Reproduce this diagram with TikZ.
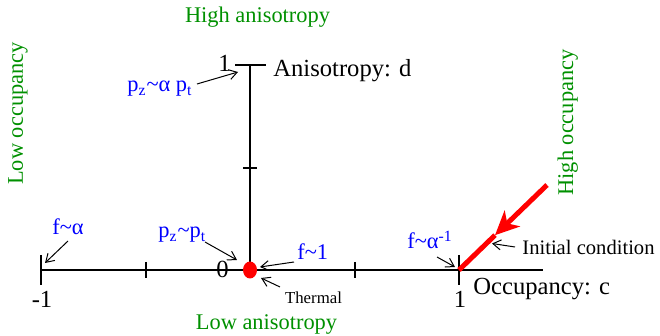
\documentclass[tikz,border=0pt]{standalone}
\usepackage{fontspec}
\setmainfont{Liberation Serif}
\usetikzlibrary{
  arrows.meta,
  shapes.geometric,
}
\definecolor{regimegreen}{RGB}{0,144,0}
\definecolor{scaleblue}{RGB}{0,0,255}
\definecolor{icred}{RGB}{255,0,0}
\tikzset{
  axisline/.style={line width=0.75pt, black},
  regimelab/.style={
    text=regimegreen, font=\fontsize{11.2}{13}\selectfont,
    inner sep=0pt, anchor=base
  },
  scalelab/.style={
    text=scaleblue, font=\fontsize{11.2}{13}\selectfont,
    inner sep=0pt, anchor=base west
  },
  axislab/.style={font=\fontsize{12.3}{14}\selectfont, inner sep=0pt},
  notelab/.style={font=\fontsize{10.3}{12}\selectfont, inner sep=0pt, anchor=base west},
  smallarrow/.style={-{Straight Barb[length=4pt,width=5pt]}, line width=0.5pt},
  initline/.style={line width=2.5pt, icred},
  thermaldot/.style={
    ellipse, fill=icred, draw=none,
    minimum width=7pt, minimum height=8.5pt, inner sep=0pt
  },
}

\begin{document}
\begin{tikzpicture}[x=0.5pt, y=-0.5pt]
  \useasboundingbox (0,0) rectangle (660,336);

  % ── Axes ──
  \coordinate (cmin) at (41,270);
  \coordinate (orig) at (250,270);
  \coordinate (cmax) at (459,270);
  \coordinate (cend) at (543,270);
  \coordinate (dtop) at (250,65);
  \draw[axisline] (cmin) -- (cend);
  \draw[axisline] (orig) -- (dtop);

  % ── Ticks ──
  \foreach \tx/\th in {41/15, 146/8, 355/8, 459/15}
    \draw[axisline] (\tx,{270-\th}) -- (\tx,{270+\th});
  \draw[axisline] (235,65) -- (266,65);
  \draw[axisline] (243,168) -- (257,168);

  % ── Axis numbers and names ──
  \node[axislab, anchor=base east] (done) at (231,72) {1};
  \node[axislab, anchor=base] (czero) at (222.5,278) {0};
  \node[axislab, anchor=base] (cmone) at (42,308) {-1};
  \node[axislab, anchor=base] (cone) at (460,308) {1};
  \node[axislab, anchor=base west] (dname) at (273,77) {Anisotropy: d};
  \node[axislab, anchor=base west] (cname) at (473,295) {Occupancy: c};

  % ── Regime labels ──
  \node[regimelab] (hiani) at (257.5,23) {High anisotropy};
  \node[regimelab] (loani) at (266.5,330) {Low anisotropy};
  \node[regimelab, rotate=90] (loocc) at (23,113.5) {Low occupancy};
  \node[regimelab, rotate=90] (hiocc) at (573,122.5) {High occupancy};

  % ── Thermal point ──
  \node[thermaldot] (therm) at (orig) {};
  \node[font=\fontsize{8.4}{10}\selectfont, inner sep=0pt, anchor=base] (thermlab) at (313.5,304) {Thermal};

  % ── Initial condition ──
  \coordinate (icstart) at (547,185);
  \coordinate (ictip) at (495,235.2);
  \draw[initline, -{Stealth[length=12pt,width=11pt,inset=3.5pt]}] (icstart) -- (ictip);
  \draw[initline] (ictip) -- (cmax);
  \node[notelab] (iclab) at (522,255) {Initial condition};

  % ── Scaling labels ──
  \node[scalelab] (fal) at (52,235) {f\textasciitilde α};
  \node[scalelab] (pzpt) at (158,238) {p\textsubscript{z}\textasciitilde p\textsubscript{t}};
  \node[scalelab] (pzapt) at (127,92) {p\textsubscript{z}\textasciitilde α p\textsubscript{t}};
  \node[scalelab] (fone) at (297,260) {f\textasciitilde 1};
  \node[scalelab] (fainv) at (407,249) {f\textasciitilde α\textsuperscript{-1}};

  % ── Pointer arrows ──
  \coordinate (falS) at (68,241);    \coordinate (falE) at (45,263);
  \coordinate (pzptS) at (205,242);  \coordinate (pzptE) at (237,260);
  \coordinate (pzaptS) at (197,84);  \coordinate (pzaptE) at (238,72);
  \coordinate (foneS) at (294,262);  \coordinate (foneE) at (260,267);
  \coordinate (thermS) at (280,287); \coordinate (thermE) at (261,278);
  \coordinate (fainvS) at (437,257); \coordinate (fainvE) at (455,267);
  \coordinate (icS) at (515,247);    \coordinate (icE) at (492,243.5);
  \draw[smallarrow] (falS) -- (falE);
  \draw[smallarrow] (pzptS) -- (pzptE);
  \draw[smallarrow] (pzaptS) -- (pzaptE);
  \draw[smallarrow] (foneS) -- (foneE);
  \draw[smallarrow] (thermS) -- (thermE);
  \draw[smallarrow] (fainvS) -- (fainvE);
  \draw[smallarrow] (icS) -- (icE);

\end{tikzpicture}
\end{document}
